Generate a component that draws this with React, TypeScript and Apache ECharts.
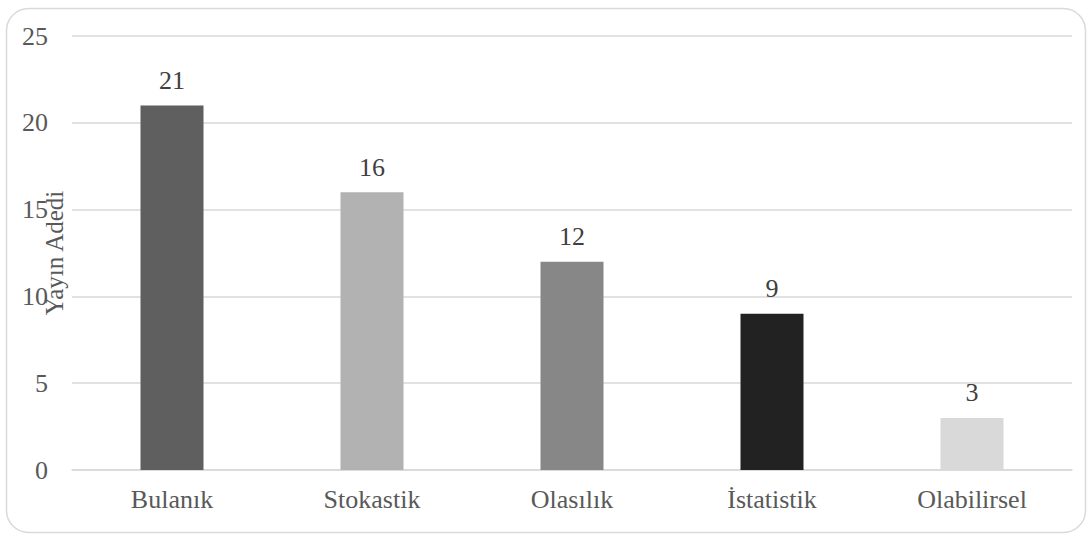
import React, { useEffect, useRef } from "react";
import * as echarts from "echarts";

const categories = ["Bulanık", "Stokastik", "Olasılık", "İstatistik", "Olabilirsel"];
const values = [21, 16, 12, 9, 3];
const barColors = ["#5f5f5f", "#b2b2b2", "#878787", "#222222", "#d9d9d9"];
const yAxisName = "Yayın Adedi";

const FONT = "Liberation Serif";
const TEXT = "#595959";

export default function App() {
  const ref = useRef<HTMLDivElement>(null);

  useEffect(() => {
    if (!ref.current) return;
    const chart = echarts.init(ref.current, null, { renderer: "svg" });
    chart.setOption({
      animation: false,
      backgroundColor: "#ffffff",
      textStyle: { fontFamily: FONT },
      graphic: [
        {
          type: "rect",
          left: 4,
          top: 6,
          shape: { x: 0, y: 0, width: 1079, height: 524, r: 22 },
          style: { fill: "none", stroke: "#d9d9d9", lineWidth: 1.5 },
          silent: true,
        },
      ],
      grid: { left: 72, right: 17, top: 36, bottom: 66, outerBoundsMode: "none", containLabel: false },
      xAxis: {
        type: "category",
        data: categories,
        axisLine: { show: true, lineStyle: { color: "#d9d9d9", width: 1.5 } },
        axisTick: { show: false },
        axisLabel: { color: TEXT, fontSize: 26, fontFamily: FONT, margin: 16 },
      },
      yAxis: {
        type: "value",
        min: 0,
        max: 25,
        interval: 5,
        name: yAxisName,
        nameLocation: "middle",
        nameGap: 5,
        nameMoveOverlap: false,
        nameTextStyle: { color: TEXT, fontSize: 25, fontFamily: FONT },
        axisLine: { show: false },
        axisTick: { show: false },
        axisLabel: { color: TEXT, fontSize: 26, fontFamily: FONT, margin: 24 },
        splitLine: { lineStyle: { color: "#d9d9d9", width: 1.5 } },
      },
      series: [
        {
          type: "bar",
          barWidth: "31.5%",
          data: values.map((v, i) => ({ value: v, itemStyle: { color: barColors[i] } })),
          label: {
            show: true,
            position: "top",
            distance: 12,
            color: "#404040",
            fontSize: 26,
            fontFamily: FONT,
          },
        },
      ],
    });
    return () => chart.dispose();
  }, []);

  return (
    <div
      ref={ref}
      style={{ position: "fixed", left: 0, top: 0, width: 1089, height: 536 }}
    />
  );
}
